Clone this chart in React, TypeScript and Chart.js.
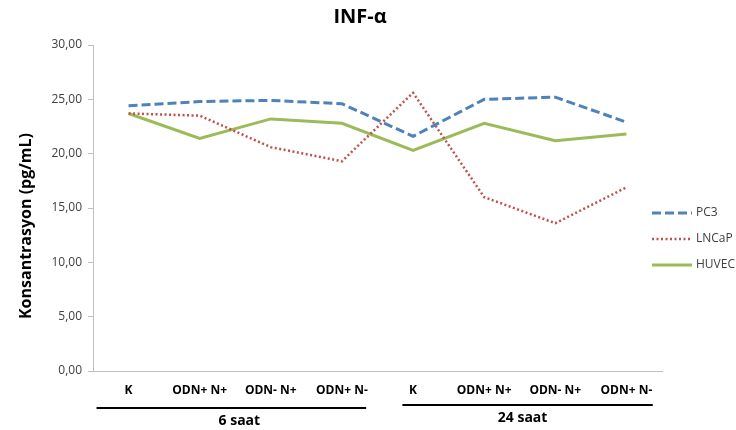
import React, { useEffect, useRef } from "react";
import { Chart, registerables } from "chart.js";

Chart.register(...registerables);

const categories = ["K", "ODN+ N+", "ODN- N+", "ODN+ N-", "K", "ODN+ N+", "ODN- N+", "ODN+ N-"];
const pc3 = [24.4, 24.8, 24.9, 24.6, 21.6, 25.0, 25.2, 22.9];
const lncap = [23.7, 23.5, 20.6, 19.3, 25.6, 16.0, 13.6, 16.9];
const huvec = [23.7, 21.4, 23.2, 22.8, 20.3, 22.8, 21.2, 21.8];
const groups = [
  { label: "6 saat", from: 0, to: 3 },
  { label: "24 saat", from: 4, to: 7 },
];
const yTicks = [0, 5, 10, 15, 20, 25, 30];
const titleText = "INF-α";
const yTitle = "Konsantrasyon (pg/mL)";

const FONT = "'Open Sans', 'Liberation Sans', sans-serif";

const extrasPlugin = {
  id: "extras",
  afterDraw(chart: any) {
    const ctx = chart.ctx;
    const xs = chart.scales.x;
    const area = chart.chartArea;
    ctx.save();
    // title
    ctx.fillStyle = "#000";
    ctx.font = `bold 20px ${FONT}`;
    ctx.textAlign = "center";
    ctx.textBaseline = "middle";
    ctx.fillText(titleText, 360, 17);

    // y axis title
    ctx.save();
    ctx.translate(26, 226);
    ctx.rotate(-Math.PI / 2);
    ctx.font = `bold 16px ${FONT}`;
    ctx.fillStyle = "#000";
    ctx.textAlign = "center";
    ctx.textBaseline = "middle";
    ctx.fillText(yTitle, 0, 0);
    ctx.restore();

    // group lines and labels
    const step = xs.getPixelForValue(1) - xs.getPixelForValue(0);
    groups.forEach((g, i) => {
      const left = xs.getPixelForValue(g.from) - step * (i === 0 ? 0.45 : 0.15);
      const right = xs.getPixelForValue(g.to) + step * (i === 0 ? 0.34 : 0.37);
      const y = i === 0 ? 408 : 405;
      ctx.strokeStyle = "#000";
      ctx.lineWidth = 2;
      ctx.setLineDash([]);
      ctx.beginPath();
      ctx.moveTo(left, y);
      ctx.lineTo(right, y);
      ctx.stroke();
      ctx.font = `bold 14px ${FONT}`;
      ctx.fillStyle = "#000";
      ctx.textAlign = "center";
      ctx.textBaseline = "middle";
      ctx.fillText(g.label, (left + right) / 2 + (i === 0 ? 8 : -5), y + 13);
    });

    // legend
    const lx = area.right - 10;
    chart.data.datasets.forEach((ds: any, i: number) => {
      const y = 213 + i * 26;
      ctx.strokeStyle = ds.borderColor;
      ctx.lineWidth = ds.borderWidth;
      ctx.setLineDash(ds.borderDash || []);
      ctx.beginPath();
      ctx.moveTo(lx, y);
      ctx.lineTo(lx + 40, y);
      ctx.stroke();
      ctx.setLineDash([]);
      ctx.fillStyle = "#404040";
      ctx.font = `12px ${FONT}`;
      ctx.textAlign = "left";
      ctx.textBaseline = "middle";
      ctx.fillText(ds.label, lx + 44, y);
    });
    ctx.restore();
  },
};

export default function App() {
  const ref = useRef<HTMLCanvasElement | null>(null);
  useEffect(() => {
    if (!ref.current) return;
    const chart = new Chart(ref.current, {
      type: "line",
      data: {
        labels: categories,
        datasets: [
          { label: "PC3", data: pc3, borderColor: "#4F81BD", borderWidth: 3, borderDash: [9, 4], pointRadius: 0, fill: false, tension: 0 },
          { label: "LNCaP", data: lncap, borderColor: "#C0504D", borderWidth: 2.5, borderDash: [2, 2.5], pointRadius: 0, fill: false, tension: 0 },
          { label: "HUVEC", data: huvec, borderColor: "#9BBB59", borderWidth: 3, pointRadius: 0, fill: false, tension: 0 },
        ],
      },
      options: {
        animation: false,
        responsive: false,
        maintainAspectRatio: false,
        layout: { padding: { top: 45, right: 74, left: 0, bottom: 0 } },
        plugins: { legend: { display: false }, title: { display: false }, tooltip: { enabled: false } },
        scales: {
          x: {
            type: "category",
            offset: true,
            grid: { display: false, drawTicks: false },
            border: { display: true, color: "#bfbfbf", width: 1 },
            ticks: { color: "#000", font: { family: FONT, size: 12, weight: "bold" }, padding: 12, maxRotation: 0, autoSkip: false },
            afterFit: (s: any) => { s.height = 430 - 371; },
          },
          y: {
            min: 0,
            max: 30,
            afterBuildTicks: (s: any) => { s.ticks = yTicks.map((v) => ({ value: v })); },
            grid: { drawOnChartArea: false, drawTicks: true, tickLength: 5, color: "#bfbfbf" },
            border: { display: true, color: "#bfbfbf", width: 1 },
            ticks: {
              color: "#404040",
              font: { family: FONT, size: 12 },
              padding: 6,
              callback: (v: any) => Number(v).toFixed(2).replace(".", ","),
            },
            title: { display: false },
            afterFit: (s: any) => { s.width = 93; },
          },
        },
      },
      plugins: [extrasPlugin],
    });
    return () => chart.destroy();
  }, []);
  return (
    <div style={{ position: "absolute", left: 0, top: 0, width: 736, height: 430, background: "#fff" }}>
      <canvas ref={ref} width={736} height={430} style={{ width: 736, height: 430, display: "block" }} />
    </div>
  );
}
